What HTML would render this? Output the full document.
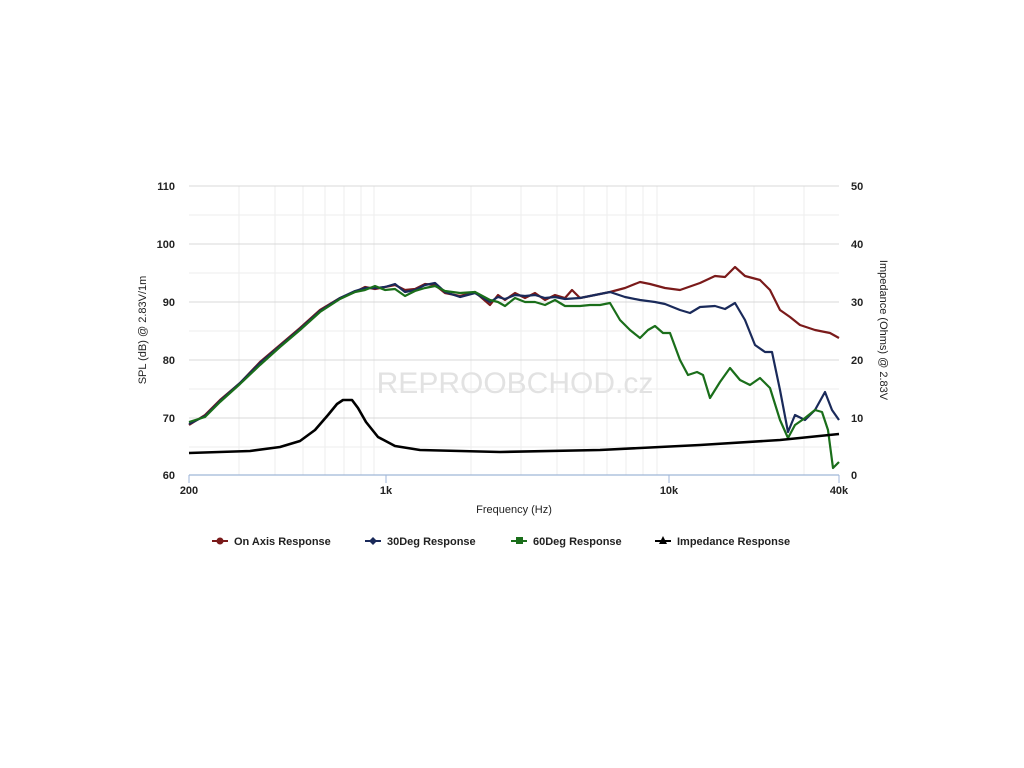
<!DOCTYPE html>
<html><head><meta charset="utf-8"><style>
body{margin:0;background:#fff;width:1024px;height:768px;overflow:hidden;font-family:"Liberation Sans",sans-serif}
svg{position:absolute;left:0;top:0}
text{font-family:"Liberation Sans",sans-serif}
</style></head><body>
<svg width="1024" height="768" viewBox="0 0 1024 768">
<g stroke="#eeeeee" stroke-width="1">
<line x1="189" x2="839" y1="215" y2="215"/><line x1="189" x2="839" y1="273" y2="273"/><line x1="189" x2="839" y1="331" y2="331"/><line x1="189" x2="839" y1="389" y2="389"/><line x1="189" x2="839" y1="447" y2="447"/>
<line x1="239" x2="239" y1="186" y2="475"/><line x1="275" x2="275" y1="186" y2="475"/><line x1="303" x2="303" y1="186" y2="475"/><line x1="325" x2="325" y1="186" y2="475"/><line x1="344" x2="344" y1="186" y2="475"/><line x1="361" x2="361" y1="186" y2="475"/><line x1="374" x2="374" y1="186" y2="475"/>
<line x1="471" x2="471" y1="186" y2="475"/><line x1="521" x2="521" y1="186" y2="475"/><line x1="557" x2="557" y1="186" y2="475"/><line x1="584" x2="584" y1="186" y2="475"/><line x1="607" x2="607" y1="186" y2="475"/><line x1="626" x2="626" y1="186" y2="475"/><line x1="643" x2="643" y1="186" y2="475"/><line x1="657" x2="657" y1="186" y2="475"/>
<line x1="754" x2="754" y1="186" y2="475"/><line x1="804" x2="804" y1="186" y2="475"/>
</g>
<g stroke="#d8d8d8" stroke-width="1">
<line x1="189" x2="839" y1="186" y2="186"/><line x1="189" x2="839" y1="244" y2="244"/><line x1="189" x2="839" y1="302" y2="302"/><line x1="189" x2="839" y1="360" y2="360"/><line x1="189" x2="839" y1="418" y2="418"/>
</g>
<line x1="189" x2="839" y1="475" y2="475" stroke="#9fb6d8" stroke-width="1.2"/>
<g stroke="#9fb6d8"><line x1="189" x2="189" y1="475" y2="483"/><line x1="386" x2="386" y1="475" y2="483"/><line x1="669" x2="669" y1="475" y2="483"/><line x1="839" x2="839" y1="475" y2="483"/></g>
<text x="515" y="393" font-size="30" fill="#e2e2e2" text-anchor="middle">REPROOBCHOD.cz</text>
<g font-size="11" font-weight="bold" fill="#222" text-anchor="end">
<text x="175" y="190">110</text><text x="175" y="248">100</text><text x="175" y="306">90</text><text x="175" y="364">80</text><text x="175" y="422">70</text><text x="175" y="479">60</text></g>
<g font-size="11" font-weight="bold" fill="#222">
<text x="851" y="190">50</text><text x="851" y="248">40</text><text x="851" y="306">30</text><text x="851" y="364">20</text><text x="851" y="422">10</text><text x="851" y="479">0</text></g>
<g font-size="11" font-weight="bold" fill="#222" text-anchor="middle">
<text x="189" y="494">200</text><text x="386" y="494">1k</text><text x="669" y="494">10k</text><text x="839" y="494">40k</text></g>
<text x="514" y="513" font-size="11" fill="#222" text-anchor="middle">Frequency (Hz)</text>
<text transform="translate(146,330) rotate(-90)" font-size="11" fill="#222" text-anchor="middle">SPL (dB) @ 2.83V/1m</text>
<text transform="translate(880,330) rotate(90)" font-size="11" fill="#222" text-anchor="middle">Impedance (Ohms) @ 2.83V</text>
<g fill="none" stroke-width="2.2" stroke-linejoin="round">
<polyline stroke="#7a1a1a" points="189,425 205,415 220,400 240,383 260,362 280,345 300,328 320,310 340,298 355,292 365,287 375,289 385,287 395,285 405,290 415,289 425,284 435,285 445,293 460,296 475,292 490,305 498,295 505,300 515,293 525,298 535,293 545,300 555,295 565,298 572,290 580,298 590,296 600,294 610,292 625,288 640,282 650,284 665,288 680,290 700,283 715,276 725,277 735,267 745,276 760,280 770,290 780,310 790,317 800,325 815,330 830,333 839,338"/>
<polyline stroke="#1a2a5a" points="189,424 205,416 220,401 240,383 260,363 280,346 300,329 320,311 340,298 355,291 365,288 375,288 385,287 395,284 405,292 415,290 425,285 435,283 445,292 460,297 475,293 490,302 498,297 505,299 515,295 525,296 535,295 545,298 555,297 565,299 580,298 590,296 600,294 610,292 625,297 640,300 655,302 665,304 680,310 690,313 700,307 715,306 725,309 735,303 745,320 755,345 765,352 772,352 780,390 788,432 795,415 805,420 815,410 825,392 832,410 839,420"/>
<polyline stroke="#1a6e1a" points="189,422 205,417 220,402 240,384 260,365 280,347 300,330 320,312 340,299 355,292 365,290 375,286 385,290 395,289 405,296 415,291 425,288 435,286 445,291 460,293 475,292 490,300 498,302 505,306 515,298 525,302 535,302 545,305 555,300 565,306 580,306 590,305 600,305 610,303 620,320 630,330 640,338 648,330 655,326 663,333 670,333 680,360 688,375 697,372 703,375 710,398 720,382 730,368 740,380 750,385 760,378 770,388 780,420 788,438 795,425 805,418 815,410 822,412 828,430 833,468 839,462"/>
<polyline stroke="#000" stroke-width="2.6" points="189,453 250,451 280,447 300,441 315,430 328,415 337,404 343,400 352,400 358,408 366,422 378,437 395,446 420,450 500,452 600,450 700,445 780,440 839,434"/>
</g>
<g font-size="11" font-weight="bold" fill="#222">
<line x1="212" x2="228" y1="541" y2="541" stroke="#7a1a1a" stroke-width="2"/><circle cx="220" cy="541" r="3.5" fill="#7a1a1a"/><text x="234" y="545">On Axis Response</text>
<line x1="365" x2="381" y1="541" y2="541" stroke="#1a2a5a" stroke-width="2"/><path d="M373 537L377 541L373 545L369 541Z" fill="#1a2a5a"/><text x="387" y="545">30Deg Response</text>
<line x1="511" x2="527" y1="541" y2="541" stroke="#1a6e1a" stroke-width="2"/><rect x="516" y="537" width="7" height="7" fill="#1a6e1a"/><text x="533" y="545">60Deg Response</text>
<line x1="655" x2="671" y1="541" y2="541" stroke="#000" stroke-width="2"/><path d="M663 536L667 544L659 544Z" fill="#000"/><text x="677" y="545">Impedance Response</text>
</g>
</svg>
</body></html>
